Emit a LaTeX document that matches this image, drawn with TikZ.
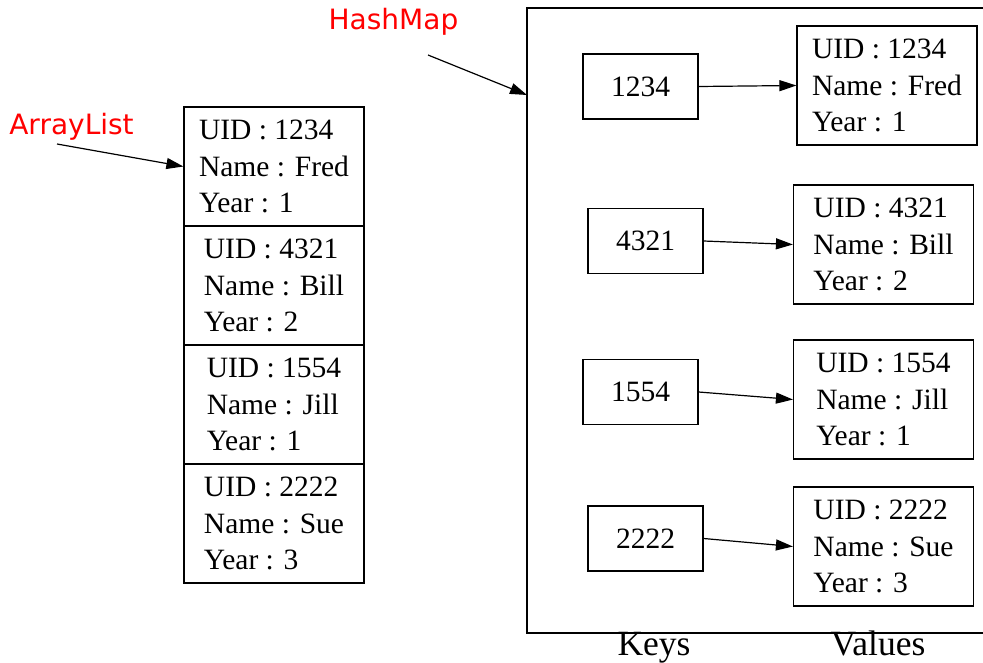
\documentclass[tikz,border=0pt]{standalone}
\usepackage{fontspec}
\setmainfont{Liberation Serif}
\newfontfamily\labelfont{DejaVu Sans}
\usetikzlibrary{arrows.meta}
\definecolor{lblred}{RGB}{255,0,0}
\tikzset{
  cellbox/.style={draw, line width=1.2pt, minimum width=180pt, minimum height=119pt, inner sep=0pt, align=left,
    font={\fontsize{29.5pt}{36.5pt}\selectfont}},
  keybox/.style={draw, line width=1.2pt, minimum width=115pt, minimum height=65pt, inner sep=0pt,
    font={\fontsize{29.5pt}{36.5pt}\selectfont}},
  redlabel/.style={text=lblred, inner sep=0pt, font={\labelfont\fontsize{28pt}{32pt}\selectfont}},
  axislabel/.style={inner sep=0pt, font={\fontsize{35.5pt}{38pt}\selectfont}},
  conn/.style={line width=1.2pt, -{Triangle[length=17pt,width=11pt]}},
}
\begin{document}
\begin{tikzpicture}[x=1pt,y=-1pt]
\useasboundingbox (0,0) rectangle (983,663);
% HashMap frame (extends past right edge)
\draw[line width=1.2pt] (990,8) -- (527,8) -- (527,633) -- (990,633);
\coordinate (hmin) at (527,95);

% ArrayList cells
\node[cellbox] (c1) at (274,166.5) {UID : 1234\\Name : Fred\\Year : 1};
\node[cellbox] (c2) at (274,285.5) {UID : 4321\\Name : Bill\\Year : 2};
\node[cellbox] (c3) at (274,404.5) {UID : 1554\\Name : Jill\\Year : 1};
\node[cellbox] (c4) at (274,523.5) {UID : 2222\\Name : Sue\\Year : 3};

% labels
\node[redlabel] (al) at (71.5,127) {ArrayList};
\node[redlabel] (hl) at (393.5,22) {HashMap};
\coordinate (alstart) at (57,144);
\coordinate (hlstart) at (428,55);
\draw[conn] (alstart) -- (c1.west);
\draw[conn] (hlstart) -- (hmin);

% keys
\node[keybox] (k1) at (640.5,86.5) {1234};
\node[keybox] (k2) at (645.5,241) {4321};
\node[keybox] (k3) at (640.5,392) {1554};
\node[keybox] (k4) at (645.5,538.5) {2222};

% values
\node[cellbox] (v1) at (887,85.5) {UID : 1234\\Name : Fred\\Year : 1};
\node[cellbox] (v2) at (883.5,244.5) {UID : 4321\\Name : Bill\\Year : 2};
\node[cellbox] (v3) at (883.5,399.5) {UID : 1554\\Name : Jill\\Year : 1};
\node[cellbox] (v4) at (883.5,546.5) {UID : 2222\\Name : Sue\\Year : 3};

\draw[conn] (k1.east) -- (v1.west);
\draw[conn] (k2.east) -- (v2.west);
\draw[conn] (k3.east) -- (v3.west);
\draw[conn] (k4.east) -- (v4.west);

\node[axislabel, anchor=base] (keys) at (654,655) {Keys};
\node[axislabel, anchor=base] (vals) at (878,655) {Values};
\end{tikzpicture}
\end{document}
